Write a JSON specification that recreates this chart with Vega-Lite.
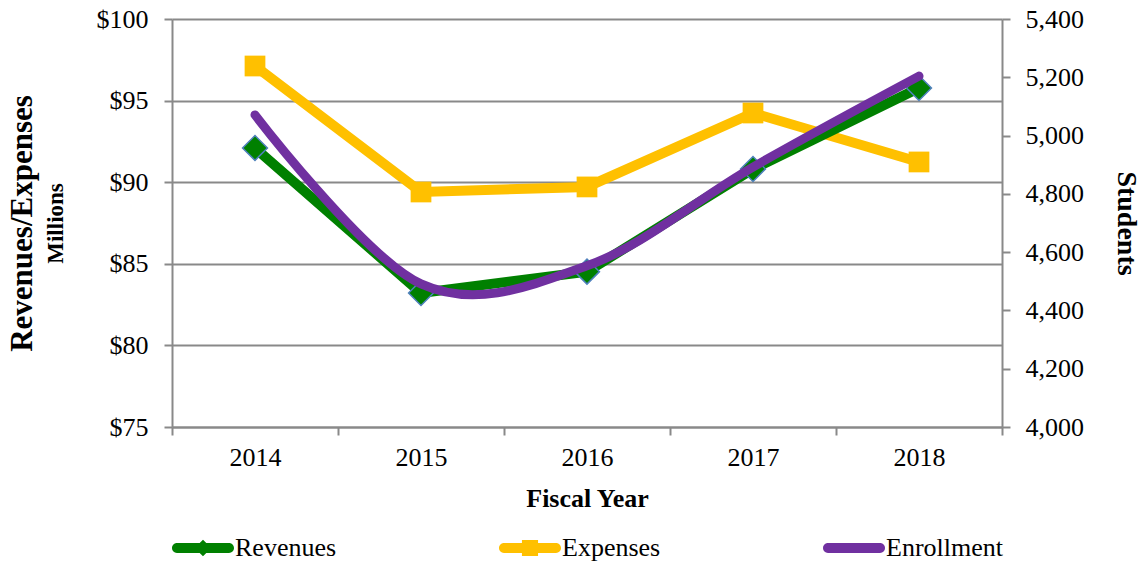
{
  "$schema": "https://vega.github.io/schema/vega-lite/v6.json",
  "width": 830,
  "height": 408,
  "autosize": {"type": "none"},
  "padding": {"left": 172, "top": 19, "right": 142, "bottom": 135},
  "background": "white",
  "data": {"values": [
    {"year": "2014", "Revenues": 92.1, "Expenses": 97.12, "Enrollment": 5071},
    {"year": "2015", "Revenues": 83.21, "Expenses": 89.4, "Enrollment": 4491},
    {"year": "2016", "Revenues": 84.52, "Expenses": 89.71, "Enrollment": 4553},
    {"year": "2017", "Revenues": 90.81, "Expenses": 94.24, "Enrollment": 4892},
    {"year": "2018", "Revenues": 95.77, "Expenses": 91.24, "Enrollment": 5204}
  ]},
  "encoding": {
    "x": {
      "field": "year", "type": "ordinal",
      "scale": {"type": "band", "paddingInner": 0, "paddingOuter": 0},
      "axis": {"title": "Fiscal Year", "labelAngle": 0, "tickBand": "extent", "grid": false, "labelPadding": 9, "titlePadding": 15, "titleFontSize": 26}
    }
  },
  "layer": [
    {
      "transform": [{"fold": ["Revenues", "Expenses"], "as": ["series", "value"]}],
      "encoding": {
        "y": {
          "field": "value", "type": "quantitative",
          "scale": {"domain": [75, 100], "nice": false, "zero": false},
          "axis": {"orient": "left", "title": "Millions", "titleFontSize": 23, "values": [75, 80, 85, 90, 95, 100], "format": "$d", "grid": true, "labelPadding": 16, "titlePadding": 29}
        }
      },
      "layer": [
        {"transform": [{"filter": "datum.series === 'Expenses'"}], "mark": {"type": "line", "color": "#FFC000", "strokeWidth": 10}},
        {"transform": [{"filter": "datum.series === 'Revenues'"}], "mark": {"type": "line", "color": "#008000", "strokeWidth": 10}},
        {"transform": [{"filter": "datum.series === 'Revenues'"}], "mark": {"type": "point", "shape": "diamond", "filled": true, "fill": "#008000", "stroke": "#4F81BD", "strokeWidth": 1.5, "size": 620, "opacity": 1}},
        {"transform": [{"filter": "datum.series === 'Expenses'"}], "mark": {"type": "point", "shape": "square", "filled": true, "fill": "#FFC000", "size": 430, "opacity": 1}}
      ]
    },
    {
      "mark": {"type": "line", "color": "#7030A0", "strokeWidth": 9, "interpolate": "cardinal", "strokeCap": "round"},
      "encoding": {
        "y": {
          "field": "Enrollment", "type": "quantitative",
          "scale": {"domain": [4000, 5400], "nice": false, "zero": false},
          "axis": {"orient": "right", "title": "Students", "titleFontSize": 28, "values": [4000, 4200, 4400, 4600, 4800, 5000, 5200, 5400], "format": ",d", "grid": false, "labelPadding": 15, "titlePadding": 28}
        }
      }
    },
    {
      "mark": {"type": "point", "opacity": 0},
      "encoding": {
        "y": {
          "field": "Revenues", "type": "quantitative",
          "scale": {"domain": [75, 100], "nice": false, "zero": false},
          "axis": {"orient": "left", "title": "Revenues/Expenses", "titleFontSize": 31, "labels": false, "ticks": false, "domain": false, "grid": false, "titlePadding": 134}
        }
      }
    },
    {
      "transform": [{"fold": ["Revenues", "Expenses", "Enrollment"], "as": ["key", "val"]}],
      "mark": {"type": "point", "filled": true, "opacity": 0},
      "encoding": {
        "color": {
          "field": "key", "type": "nominal",
          "scale": {"domain": ["Revenues", "Expenses", "Enrollment"], "range": ["#008000", "#FFC000", "#7030A0"]},
          "legend": {"title": null}
        },
        "shape": {
          "field": "key", "type": "nominal",
          "scale": {"domain": ["Revenues", "Expenses", "Enrollment"], "range": [
            "M-0.84,-0.16 L0.84,-0.16 A0.16,0.16 0 0 1 0.84,0.16 L-0.84,0.16 A0.16,0.16 0 0 1 -0.84,-0.16 Z M0,-0.27 L0.27,0 L0,0.27 L-0.27,0 Z",
            "M-0.84,-0.16 L0.84,-0.16 A0.16,0.16 0 0 1 0.84,0.16 L-0.84,0.16 A0.16,0.16 0 0 1 -0.84,-0.16 Z M-0.26,-0.26 L0.26,-0.26 L0.26,0.26 L-0.26,0.26 Z",
            "M-0.84,-0.16 L0.84,-0.16 A0.16,0.16 0 0 1 0.84,0.16 L-0.84,0.16 A0.16,0.16 0 0 1 -0.84,-0.16 Z"
          ]},
          "legend": {"title": null}
        }
      }
    }
  ],
  "resolve": {"scale": {"y": "independent"}, "axis": {"y": "independent"}},
  "config": {
    "view": {"stroke": null},
    "font": "Liberation Serif",
    "axis": {
      "labelFont": "Liberation Serif", "labelFontSize": 26, "labelColor": "black",
      "titleFont": "Liberation Serif", "titleFontWeight": "bold", "titleColor": "black",
      "domainColor": "#898989", "domainWidth": 2, "tickColor": "#898989", "tickWidth": 2, "tickSize": 8,
      "gridColor": "#898989", "gridWidth": 2
    },
    "legend": {
      "orient": "bottom", "direction": "horizontal", "offset": 6,
      "labelFont": "Liberation Serif", "labelFontSize": 26, "labelColor": "black", "labelLimit": 300,
      "symbolSize": 3844, "symbolOpacity": 1, "symbolStrokeWidth": 0, "labelOffset": 1, "columnPadding": 162
    }
  }
}
